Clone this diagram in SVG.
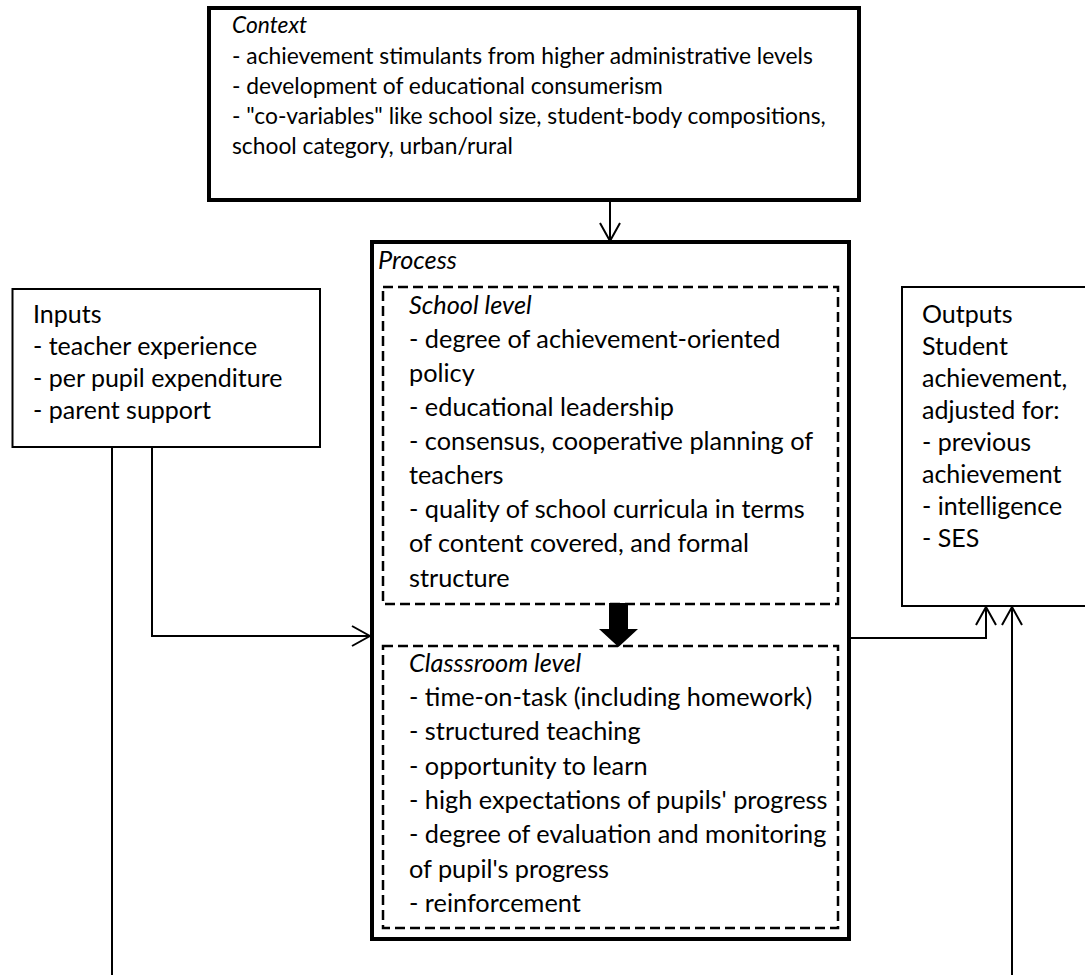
<svg xmlns="http://www.w3.org/2000/svg" width="1085" height="975" viewBox="0 0 1085 975">
  <style>
    text { font-family: Lato, "Liberation Sans", sans-serif; fill: #000; }
    .ctx { font-size: 22.8px; }
    .proc { font-size: 25.3px; }
    .io { font-size: 25px; }
    .it { font-style: italic; }
    .thick { fill: #fff; stroke: #000; stroke-width: 4; }
    .thin { fill: #fff; stroke: #000; stroke-width: 2; }
    .dash { fill: none; stroke: #000; stroke-width: 2.5; stroke-dasharray: 10 5; }
    .conn { fill: none; stroke: #000; stroke-width: 2; }
  </style>
  <defs>
    <marker id="open" markerUnits="userSpaceOnUse" viewBox="0 0 20 22" refX="19" refY="11" markerWidth="20" markerHeight="22" orient="auto">
      <path d="M1,1 L19,11 L1,21" fill="none" stroke="#000" stroke-width="2"/>
    </marker>
  </defs>
  <rect width="1085" height="975" fill="#fff"/>

  <!-- Context -->
  <g id="context">
    <rect class="thick" x="209" y="8" width="650" height="192"/>
    <text class="ctx" x="232">
      <tspan class="it" x="232" y="33">Context</tspan>
      <tspan x="232" y="64">- achievement stimulants from higher administrative levels</tspan>
      <tspan x="232" y="94">- development of educational consumerism</tspan>
      <tspan x="232" y="124">- "co-variables" like school size, student-body compositions,</tspan>
      <tspan x="232" y="154">school category, urban/rural</tspan>
    </text>
  </g>

  <!-- Inputs -->
  <g id="inputs">
    <rect class="thin" x="12.5" y="289" width="307.5" height="158"/>
    <text class="io">
      <tspan x="33" y="323">Inputs</tspan>
      <tspan x="33" y="355">- teacher experience</tspan>
      <tspan x="33" y="387">- per pupil expenditure</tspan>
      <tspan x="33" y="419">- parent support</tspan>
    </text>
  </g>

  <!-- Outputs -->
  <g id="outputs">
    <rect class="thin" x="902" y="287" width="190" height="319"/>
    <text class="io">
      <tspan x="922" y="323">Outputs</tspan>
      <tspan x="922" y="355">Student</tspan>
      <tspan x="922" y="387">achievement,</tspan>
      <tspan x="922" y="419">adjusted for:</tspan>
      <tspan x="922" y="451">- previous</tspan>
      <tspan x="922" y="483">achievement</tspan>
      <tspan x="922" y="515">- intelligence</tspan>
      <tspan x="922" y="547">- SES</tspan>
    </text>
  </g>

  <!-- Process with its two levels -->
  <g id="process">
    <rect class="thick" x="372" y="242" width="477" height="697"/>
    <text class="proc it" x="378" y="269">Process</text>
  </g>

  <g id="school-level">
    <rect class="dash" x="383" y="287" width="455" height="317"/>
    <text class="proc">
      <tspan class="it" x="409" y="314">School level</tspan>
      <tspan x="409" y="348">- degree of achievement-oriented</tspan>
      <tspan x="409" y="382">policy</tspan>
      <tspan x="409" y="416">- educational leadership</tspan>
      <tspan x="409" y="450">- consensus, cooperative planning of</tspan>
      <tspan x="409" y="484">teachers</tspan>
      <tspan x="409" y="518">- quality of school curricula in terms</tspan>
      <tspan x="409" y="552">of content covered, and formal</tspan>
      <tspan x="409" y="587">structure</tspan>
    </text>
  </g>

  <g id="classroom-level">
    <rect class="dash" x="383" y="646" width="455" height="282"/>
    <text class="proc">
      <tspan class="it" x="409" y="672">Classsroom level</tspan>
      <tspan x="409" y="706">- time-on-task (including homework)</tspan>
      <tspan x="409" y="740">- structured teaching</tspan>
      <tspan x="409" y="775">- opportunity to learn</tspan>
      <tspan x="409" y="809">- high expectations of pupils' progress</tspan>
      <tspan x="409" y="843">- degree of evaluation and monitoring</tspan>
      <tspan x="409" y="878">of pupil's progress</tspan>
      <tspan x="409" y="912">- reinforcement</tspan>
    </text>
  </g>

  <!-- Connectors -->
  <g id="connectors">
    <line class="conn" x1="610" y1="202" x2="610" y2="241" marker-end="url(#open)"/>
    <path class="conn" d="M152,447 V636 H370" marker-end="url(#open)"/>
    <line class="conn" x1="112" y1="447" x2="112" y2="975"/>
    <path class="conn" d="M851,638 H986 V607" marker-end="url(#open)"/>
    <line class="conn" x1="1012" y1="975" x2="1012" y2="607" marker-end="url(#open)"/>
    <polygon points="609,603 628,603 628,629 638,629 618.5,647 599,629 609,629" fill="#000"/>
  </g>
</svg>
